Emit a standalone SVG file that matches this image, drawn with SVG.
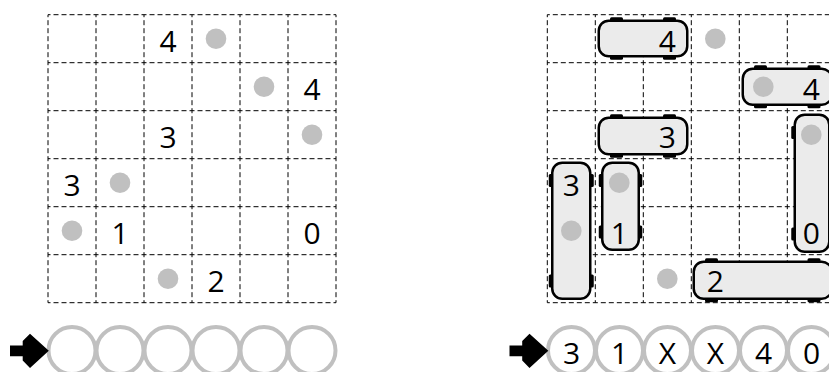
<svg xmlns="http://www.w3.org/2000/svg" xmlns:xlink="http://www.w3.org/1999/xlink" width="829" height="372" viewBox="0 0 829 372">
<style>
.grid{fill:none;stroke:#000;stroke-width:1;stroke-dasharray:5 3;stroke-dashoffset:2.5}
.dot{fill:#c0c0c0}
.num{font-family:"Open Sans","Liberation Sans",sans-serif;font-size:30px;fill:#000;text-anchor:middle}
.ring{fill:#fff;stroke:#c0c0c0;stroke-width:4}
.car{fill:#ebebeb;stroke:#000;stroke-width:2.5}
.wheel{fill:#000}
.arrow{fill:#000}
</style>
<defs>
<path id="gridlines" class="grid" d="M48 14.7H336M48 62.7H336M48 110.7H336M48 158.7H336M48 206.7H336M48 254.7H336M48 302.7H336M48 14.7V302.7M96 14.7V302.7M144 14.7V302.7M192 14.7V302.7M240 14.7V302.7M288 14.7V302.7M336 14.7V302.7"/>
<g id="dots">
<circle class="dot" cx="216" cy="38.7" r="10.3"/>
<circle class="dot" cx="264" cy="86.7" r="10.3"/>
<circle class="dot" cx="312" cy="134.7" r="10.3"/>
<circle class="dot" cx="120" cy="182.7" r="10.3"/>
<circle class="dot" cx="72" cy="230.7" r="10.3"/>
<circle class="dot" cx="168" cy="278.7" r="10.3"/>
</g>
<g id="rings">
<circle class="ring" cx="72" cy="350.5" r="23.5"/>
<circle class="ring" cx="120" cy="350.5" r="23.5"/>
<circle class="ring" cx="168" cy="350.5" r="23.5"/>
<circle class="ring" cx="216" cy="350.5" r="23.5"/>
<circle class="ring" cx="264" cy="350.5" r="23.5"/>
<circle class="ring" cx="312" cy="350.5" r="23.5"/>
</g>
<polygon id="arr" class="arrow" points="10,345.5 22.7,345.5 22.7,341 30,333.7 48.8,350.8 30,368 22.7,360.6 22.7,356.3 10,356.3"/>
</defs>

<g id="puzzle">
<use xlink:href="#gridlines"/>
<use xlink:href="#dots"/>
<g id="clues">
<text class="num" x="168" y="52">4</text>
<text class="num" x="312" y="100">4</text>
<text class="num" x="168" y="148">3</text>
<text class="num" x="72" y="196">3</text>
<text class="num" x="120" y="244">1</text>
<text class="num" x="312" y="244">0</text>
<text class="num" x="216" y="292">2</text>
</g>
<g id="answer-row-empty">
<use xlink:href="#rings"/>
<use xlink:href="#arr"/>
</g>
</g>

<g id="solution">
<use xlink:href="#gridlines" transform="translate(499.3,0)"/>
<g id="cars">
<g id="carA">
<rect class="wheel" x="610" y="17.25" width="13" height="7" rx="1.5"/>
<rect class="wheel" x="663" y="17.25" width="13" height="7" rx="1.5"/>
<rect class="wheel" x="610" y="52.75" width="13" height="7" rx="1.5"/>
<rect class="wheel" x="663" y="52.75" width="13" height="7" rx="1.5"/>
<rect class="car" x="598.75" y="20.75" width="88.5" height="35.5" rx="10"/>
</g>
<g id="carB">
<rect class="wheel" x="754" y="65.25" width="13" height="7" rx="1.5"/>
<rect class="wheel" x="807.5" y="65.25" width="13" height="7" rx="1.5"/>
<rect class="wheel" x="754" y="101.25" width="13" height="7" rx="1.5"/>
<rect class="wheel" x="807.5" y="101.25" width="13" height="7" rx="1.5"/>
<rect class="car" x="742.75" y="68.75" width="89" height="36" rx="10"/>
</g>
<g id="carC">
<rect class="wheel" x="610" y="114.25" width="13" height="7" rx="1.5"/>
<rect class="wheel" x="663" y="114.25" width="13" height="7" rx="1.5"/>
<rect class="wheel" x="610" y="150.75" width="13" height="7" rx="1.5"/>
<rect class="wheel" x="663" y="150.75" width="13" height="7" rx="1.5"/>
<rect class="car" x="598.75" y="117.75" width="88.5" height="36.5" rx="10"/>
</g>
<g id="carD">
<rect class="wheel" x="548.75" y="174" width="7" height="13" rx="1.5"/>
<rect class="wheel" x="586.75" y="174" width="7" height="13" rx="1.5"/>
<rect class="wheel" x="548.75" y="274.5" width="7" height="13" rx="1.5"/>
<rect class="wheel" x="586.75" y="274.5" width="7" height="13" rx="1.5"/>
<rect class="car" x="552.25" y="162.75" width="38" height="136" rx="10"/>
</g>
<g id="carE">
<rect class="wheel" x="598.75" y="174" width="7" height="13" rx="1.5"/>
<rect class="wheel" x="635.25" y="174" width="7" height="13" rx="1.5"/>
<rect class="wheel" x="598.75" y="225.5" width="7" height="13" rx="1.5"/>
<rect class="wheel" x="635.25" y="225.5" width="7" height="13" rx="1.5"/>
<rect class="car" x="602.25" y="162.75" width="36.5" height="87" rx="10"/>
</g>
<g id="carF">
<rect class="wheel" x="791.25" y="126" width="7" height="13" rx="1.5"/>
<rect class="wheel" x="825.75" y="126" width="7" height="13" rx="1.5"/>
<rect class="wheel" x="791.25" y="227.5" width="7" height="13" rx="1.5"/>
<rect class="wheel" x="825.75" y="227.5" width="7" height="13" rx="1.5"/>
<rect class="car" x="794.75" y="114.75" width="34.5" height="137" rx="10"/>
</g>
<g id="carG">
<rect class="wheel" x="705" y="258.25" width="13" height="7" rx="1.5"/>
<rect class="wheel" x="807.5" y="258.25" width="13" height="7" rx="1.5"/>
<rect class="wheel" x="705" y="295.25" width="13" height="7" rx="1.5"/>
<rect class="wheel" x="807.5" y="295.25" width="13" height="7" rx="1.5"/>
<rect class="car" x="693.75" y="261.75" width="138" height="37" rx="10"/>
</g>
</g>
<use xlink:href="#dots" transform="translate(499.3,0)"/>
<g id="clues-solved">
<text class="num" x="667.3" y="52">4</text>
<text class="num" x="811.3" y="100">4</text>
<text class="num" x="667.3" y="148">3</text>
<text class="num" x="571.3" y="196">3</text>
<text class="num" x="619.3" y="244">1</text>
<text class="num" x="811.3" y="244">0</text>
<text class="num" x="715.3" y="292">2</text>
</g>
<g id="answer-row-solved">
<use xlink:href="#rings" transform="translate(499.5,0)"/>
<use xlink:href="#arr" transform="translate(499.5,0)"/>
<text class="num" x="571.5" y="363.5">3</text>
<text class="num" x="619.5" y="363.5">1</text>
<text class="num" x="667.5" y="363.5">X</text>
<text class="num" x="715.5" y="363.5">X</text>
<text class="num" x="763.5" y="363.5">4</text>
<text class="num" x="811.5" y="363.5">0</text>
</g>
</g>
</svg>
